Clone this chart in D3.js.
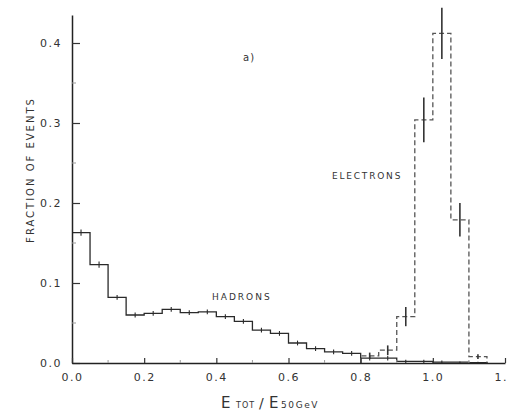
<!DOCTYPE html>
<html>
<head>
<meta charset="UTF-8">
<title>Etot / E50GeV</title>
<style>
body { margin: 0; background: #fff; }
text { font-family: "DejaVu Sans", sans-serif; fill: #333; }
</style>
</head>
<body>
<svg width="508" height="411"></svg>
<script src="https://d3js.org/d3.v7.min.js"></script>
<script>
// bin lower edges (width 0.05) and fractions
var hadronLo = [0.00,0.05,0.10,0.15,0.20,0.25,0.30,0.35,0.40,0.45,0.50,0.55,
                0.60,0.65,0.70,0.75,0.80,0.85,0.90,0.95,1.00,1.05,1.10];
var hadrons  = [0.163,0.123,0.082,0.060,0.062,0.067,0.063,0.064,0.058,0.052,0.041,0.037,
                0.025,0.018,0.014,0.012,0.006,0.006,0.002,0.002,0.001,0.001,0.0005];
var hadronErr = [0.004,0.004,0.003,0.003,0.003,0.003,0.003,0.003,0.003,0.003,0.003,0.003,
                 0.003,0.003,0.003,0.003,0.003,0.003,0.002,0.002,0.002,0.001,0.001];

var electronLo = [0.80,0.85,0.90,0.95,1.00,1.05,1.10];
var electrons  = [0.009,0.016,0.058,0.304,0.412,0.179,0.008];
var electronErr = [0.004,0.006,0.012,0.028,0.032,0.021,0.003];

var binWidth = 0.05;
var xTicks = [0,0.2,0.4,0.6,0.8,1.0,1.2];
var yTicks = [0,0.1,0.2,0.3,0.4];

var svg = d3.select("svg"),
    x0 = 72, x1 = 505,
    y0 = 363, y1 = 15;

var x = d3.scaleLinear().domain([0,1.2]).range([x0,x1]);
var y = d3.scaleLinear().domain([0,0.435]).range([y0,y1]);

// histograms as step lines
function stepPoints(lo, vals, fromZero) {
  var pts = [];
  if (fromZero) pts.push([lo[0], 0]);
  lo.forEach(function(d,i){ pts.push([d, vals[i]]); });
  var last = lo[lo.length-1] + binWidth;
  pts.push([last, vals[vals.length-1]]);
  pts.push([last, 0]);
  return pts;
}
var line = d3.line()
    .x(function(d){ return x(d[0]); })
    .y(function(d){ return y(d[1]); })
    .curve(d3.curveStepAfter);

svg.append("path")
    .attr("d", line(stepPoints(hadronLo, hadrons, false)))
    .attr("fill","none")
    .attr("stroke","#2a2a2a")
    .attr("stroke-width",1.3);

svg.append("path")
    .attr("d", line(stepPoints(electronLo, electrons, true)))
    .attr("fill","none")
    .attr("stroke","#555")
    .attr("stroke-width",1.3)
    .attr("stroke-dasharray","5,3");

// error bars at bin centres
function errBars(lo, vals, errs, col, w) {
  var g = svg.append("g");
  g.selectAll("line").data(lo).enter().append("line")
    .attr("x1", function(d){ return x(d + binWidth/2); })
    .attr("x2", function(d){ return x(d + binWidth/2); })
    .attr("y1", function(d,i){ return y(vals[i] + errs[i]); })
    .attr("y2", function(d,i){ return Math.min(y0, y(vals[i] - errs[i])); })
    .attr("stroke", col)
    .attr("stroke-width", w);
}
errBars(hadronLo, hadrons, hadronErr, "#2a2a2a", 1.1);
errBars(electronLo, electrons, electronErr, "#333", 1.6);

// axes
var yAxis = d3.axisLeft(y).tickValues(yTicks).tickSizeInner(-8).tickSizeOuter(0)
    .tickPadding(10).tickFormat(d3.format(".1f"));
var gy = svg.append("g").attr("transform","translate(" + x0 + ",0)").call(yAxis);

var xAxis = d3.axisBottom(x).tickValues(xTicks).tickSizeInner(-5).tickSizeOuter(0)
    .tickPadding(10).tickFormat(d3.format(".1f"));
var gx = svg.append("g").attr("transform","translate(0," + y0 + ")").call(xAxis);

[gx, gy].forEach(function(g){
  g.select(".domain").attr("stroke","#222").attr("stroke-width",1.5);
  g.selectAll(".tick line").attr("stroke","#333").attr("stroke-width",1.2);
  g.selectAll(".tick text").attr("font-size",11).attr("fill","#333")
    .style("letter-spacing","1.5px").attr("font-family","DejaVu Sans, sans-serif");
});

// minor ticks
svg.append("g").selectAll("line").data([0.05,0.15,0.25,0.35]).enter().append("line")
    .attr("x1", x0).attr("x2", x0 + 4)
    .attr("y1", function(d){ return y(d); }).attr("y2", function(d){ return y(d); })
    .attr("stroke","#999").attr("stroke-width",1);
svg.append("g").selectAll("line").data([0.1,0.3,0.5,0.7,0.9,1.1]).enter().append("line")
    .attr("x1", function(d){ return x(d); }).attr("x2", function(d){ return x(d); })
    .attr("y1", y0).attr("y2", y0 - 3)
    .attr("stroke","#999").attr("stroke-width",1);

// labels
svg.append("text").text("a)")
    .attr("x",243).attr("y",61).attr("font-size",10).style("letter-spacing","1px");

svg.append("text").text("ELECTRONS")
    .attr("x",332).attr("y",179).attr("font-size",9).style("letter-spacing","1.8px");

svg.append("text").text("HADRONS")
    .attr("x",212).attr("y",300).attr("font-size",9).style("letter-spacing","2px");

svg.append("text").text("FRACTION OF EVENTS")
    .attr("transform","translate(34,170) rotate(-90)")
    .attr("text-anchor","middle")
    .attr("font-size",10).style("letter-spacing","2px");

var xt = svg.append("text").attr("y",408);
xt.append("tspan").attr("x",221).attr("font-size",15).text("E");
xt.append("tspan").attr("x",236).attr("font-size",8).style("letter-spacing","1px").text("TOT");
xt.append("tspan").attr("x",259).attr("font-size",14).text("/");
xt.append("tspan").attr("x",269).attr("font-size",15).text("E");
xt.append("tspan").attr("x",281).attr("font-size",9).style("letter-spacing","1.6px").text("50GeV");
</script>
</body>
</html>
